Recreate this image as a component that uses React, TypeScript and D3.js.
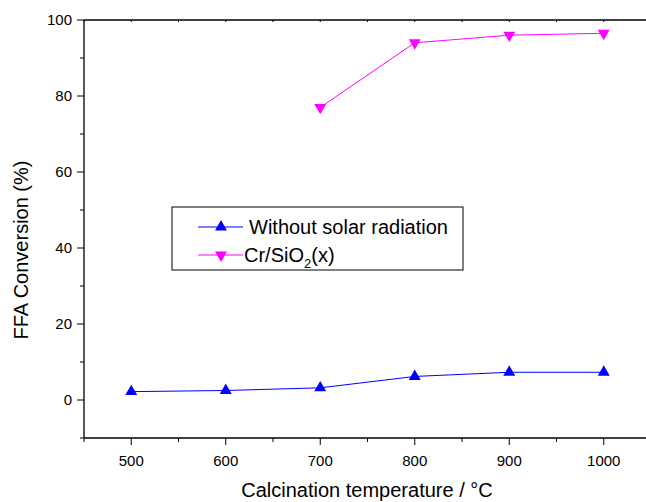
import React from 'react';
import * as d3 from 'd3';

const temps = [500, 600, 700, 800, 900, 1000];
const withoutSolar = [2.2, 2.5, 3.2, 6.2, 7.3, 7.3];
const crTemps = [700, 800, 900, 1000];
const crSiO2 = [77, 94, 96, 96.5];
const xTicks = [500, 600, 700, 800, 900, 1000];
const yTicks = [0, 20, 40, 60, 80, 100];

const W = 646;
const H = 502;
const margin = { top: 20, left: 84, bottom: 64, right: -5 };

const FONT = "'Liberation Sans', Arial, sans-serif";

export default function App() {
    const iwidth = W - margin.left - margin.right;
    const iheight = H - margin.top - margin.bottom;

    const x = d3.scaleLinear().domain([450, 1050]).range([0, iwidth]);
    const y = d3.scaleLinear().domain([-10, 100]).range([iheight, 0]);

    const line = d3.line<[number, number]>()
        .x(d => x(d[0]))
        .y(d => y(d[1]));

    const blueData: [number, number][] = temps.map((t, i) => [t, withoutSolar[i]]);
    const pinkData: [number, number][] = crTemps.map((t, i) => [t, crSiO2[i]]);

    const tri = d3.symbol().type(d3.symbolTriangle).size(62)();

    const xMinor = d3.range(450, 1051, 50);
    const yMinor = d3.range(-10, 101, 10);

    return (
        <svg width={W} height={H} style={{ position: 'absolute', left: 0, top: 0, background: '#fff' }}>
            <g transform={`translate(${margin.left},${margin.top})`}>
                {/* frame */}
                <line x1={0} x2={iwidth} y1={0} y2={0} stroke="#000" strokeWidth={1.3} />
                <line x1={0} x2={iwidth} y1={iheight} y2={iheight} stroke="#000" strokeWidth={1.3} />
                <line x1={0} x2={0} y1={0} y2={iheight} stroke="#000" strokeWidth={1.3} />

                {/* x ticks */}
                {xMinor.map(v => {
                    const major = v % 100 === 0;
                    return (
                        <g key={'x' + v}>
                            <line x1={x(v)} x2={x(v)} y1={iheight} y2={iheight + (major ? 7 : 4)} stroke="#000" strokeWidth={1} />
                            <line x1={x(v)} x2={x(v)} y1={0} y2={2} stroke="#000" strokeWidth={1} />
                        </g>
                    );
                })}
                {xTicks.map(v => (
                    <text key={'xl' + v} x={x(v)} y={iheight + 28} textAnchor="middle" fontFamily={FONT} fontSize={15}>{v}</text>
                ))}

                {/* y ticks */}
                {yMinor.map(v => {
                    const major = v % 20 === 0;
                    return <line key={'y' + v} x1={0} x2={major ? -7 : -4} y1={y(v)} y2={y(v)} stroke="#000" strokeWidth={1} />;
                })}
                {yTicks.map(v => (
                    <text key={'yl' + v} x={-12} y={y(v)} dy="0.35em" textAnchor="end" fontFamily={FONT} fontSize={15}>{v}</text>
                ))}

                {/* series */}
                <path d={line(blueData) || ''} fill="none" stroke="#0000ff" strokeWidth={1} />
                {blueData.map((d, i) => (
                    <path key={'b' + i} d={tri || ''} transform={`translate(${x(d[0])},${y(d[1])})`} fill="#0000ff" />
                ))}
                <path d={line(pinkData) || ''} fill="none" stroke="#ff00ff" strokeWidth={1} />
                {pinkData.map((d, i) => (
                    <path key={'p' + i} d={tri || ''} transform={`translate(${x(d[0])},${y(d[1])}) rotate(180)`} fill="#ff00ff" />
                ))}
            </g>

            {/* legend */}
            <rect x={172} y={207} width={291} height={63} fill="none" stroke="#000" strokeWidth={1} />
            <line x1={198} x2={243} y1={227} y2={227} stroke="#0000ff" strokeWidth={1} />
            <path d={tri || ''} transform="translate(221,227)" fill="#0000ff" />
            <text x={249} y={227} dy="0.35em" fontFamily={FONT} fontSize={20}>Without solar radiation</text>
            <line x1={198} x2={243} y1={255} y2={255} stroke="#ff00ff" strokeWidth={1} />
            <path d={tri || ''} transform="translate(221,255) rotate(180)" fill="#ff00ff" />
            <text x={244} y={255} dy="0.35em" fontFamily={FONT} fontSize={20}>
                Cr/SiO<tspan fontSize={13} dy="6">2</tspan><tspan dy="-6">(x)</tspan>
            </text>

            {/* axis titles */}
            <text x={367} y={497} textAnchor="middle" fontFamily={FONT} fontSize={20}>Calcination temperature / °C</text>
            <text transform="translate(28,250) rotate(-90)" textAnchor="middle" fontFamily={FONT} fontSize={20}>FFA Conversion (%)</text>
        </svg>
    );
}
